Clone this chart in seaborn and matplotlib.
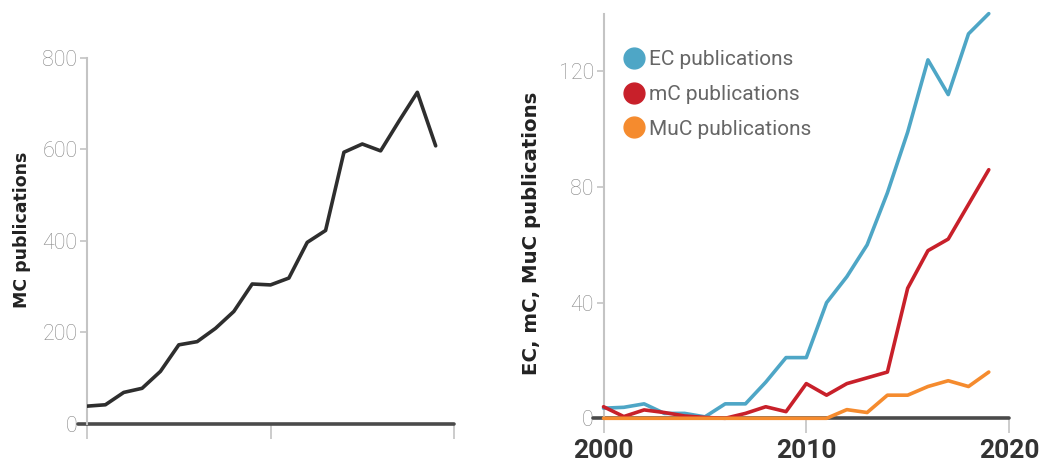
import matplotlib
matplotlib.use("Agg")
import matplotlib.pyplot as plt
from matplotlib.lines import Line2D
import seaborn as sns
import pandas as pd

years = list(range(2000, 2020))
mc_pubs = [39, 42, 69, 78, 115, 173, 180, 209, 246, 306, 304, 319, 397, 423, 594, 612, 597, 662, 725, 608]
ec_pubs = [3.5, 3.8, 5, 1.7, 1.7, 0.5, 5, 5, 12.5, 21, 21, 40, 49, 60, 78, 99, 124, 112, 133, 140]
mc_small_pubs = [4, 0.6, 2.9, 2, 0.8, 0.3, 0, 1.7, 4, 2.3, 12, 8, 12, 14, 16, 45, 58, 62, 74, 86]
muc_pubs = [0, 0, 0, 0, 0, 0, 0, 0, 0, 0, 0, 0, 3, 2, 8, 8, 11, 13, 11, 16]

series_names = ["EC publications", "mC publications", "MuC publications"]
series_colors = ["#4ea6c6", "#c8202a", "#f58b2e"]

sns.set_style("white")
plt.rcParams["font.family"] = ["Roboto", "DejaVu Sans"]

fig = plt.figure(figsize=(10.5, 4.7), dpi=100)
ax1 = fig.add_axes([0.0829, 0.0979, 0.3495, 0.7787])
ax2 = fig.add_axes([0.5748, 0.110, 0.3862, 0.861])

tick_gray = "#888888"
spine_gray = "#c4c4c4"
base_dark = "#4a4a4a"
lw_main = 2.6

# left panel: MC publications
left_df = pd.DataFrame({"year": years, "pubs": mc_pubs})
sns.lineplot(data=left_df, x="year", y="pubs", ax=ax1, color="#2e2e2e", lw=lw_main, zorder=3)
ax1.set_xlim(2000, 2020)
ax1.set_ylim(0, 800)
ax1.set_yticks([0, 200, 400, 600, 800])
ax1.set_xticks([2000, 2010, 2020])
ax1.set_xticklabels([])
ax1.set_xlabel("")
ax1.set_ylabel("MC publications", fontsize=12.5, fontweight="bold", color="#222222",
               family=["DejaVu Sans"])
ax1.yaxis.set_label_coords(-0.153, 0.53)

# right panel: EC, mC, MuC
right_df = pd.DataFrame({
    "year": years * 3,
    "pubs": ec_pubs + mc_small_pubs + muc_pubs,
    "series": [series_names[0]] * 20 + [series_names[1]] * 20 + [series_names[2]] * 20,
})
sns.lineplot(data=right_df, x="year", y="pubs", hue="series", hue_order=series_names,
             palette=dict(zip(series_names, series_colors)), ax=ax2, lw=lw_main,
             zorder=3, legend=False)
for ln in ax2.lines:
    ln.set_clip_on(False)
ax2.set_xlim(2000, 2020)
ax2.set_ylim(0, 140)
ax2.set_yticks([0, 40, 80, 120])
ax2.set_xticks([2000, 2010, 2020])
ax2.set_xticklabels(["2000", "2010", "2020"], fontsize=19, fontweight="bold", color="#333333")
ax2.set_xlabel("")
ax2.set_ylabel("EC, mC, MuC publications", fontsize=14.2, fontweight="bold", color="#222222",
               family=["DejaVu Sans"])
ax2.yaxis.set_label_coords(-0.154, 0.458)

for ax in (ax1, ax2):
    ax.spines["top"].set_visible(False)
    ax.spines["right"].set_visible(False)
    ax.spines["left"].set_color(spine_gray)
    ax.spines["left"].set_linewidth(1.5)
    ax.spines["bottom"].set_visible(False)
    ax.axhline(0, xmin=-0.025, xmax=1.0, color=base_dark, lw=lw_main, clip_on=False, zorder=2)
    ax.tick_params(axis="y", which="both", left=True, length=5, width=1.2, color=spine_gray,
                   labelsize=15.5, labelcolor=tick_gray, pad=2)
    ax.tick_params(axis="x", which="both", bottom=True, length=11, width=1.2, color=spine_gray, pad=4)
    for lbl in ax.get_yticklabels():
        lbl.set_fontweight("light")

handles = [Line2D([], [], marker="o", linestyle="", markersize=15, color=c) for c in series_colors]
ax2.legend(handles, series_names, loc="upper left", bbox_to_anchor=(0.03, 0.93), frameon=False,
           fontsize=15, labelcolor="#666666", handletextpad=0.2, labelspacing=0.75,
           borderaxespad=0.0, handlelength=1.0)

fig.savefig("out.png", dpi=100)
